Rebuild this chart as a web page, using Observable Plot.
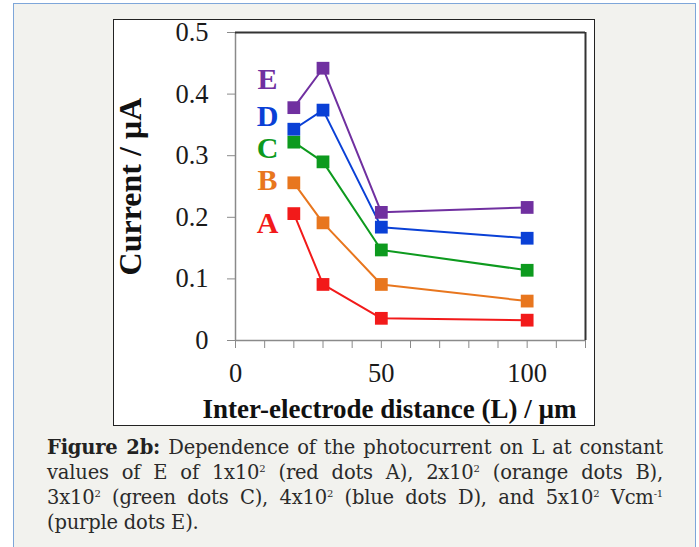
<!DOCTYPE html>
<html>
<head>
<meta charset="utf-8">
<script src="https://cdn.jsdelivr.net/npm/d3@7"></script>
<script src="https://cdn.jsdelivr.net/npm/@observablehq/plot@0.6"></script>
<style>
  html, body { margin: 0; padding: 0; background: #ffffff; width: 699px; height: 547px; overflow: hidden; }
  #panel { position: absolute; left: 13px; top: 3px; width: 681px; height: 560px; background: #f2f2ee;
           border-top: 1px solid #7ea6d9; border-left: 1px solid #7ea6d9; border-right: 1px solid #7ea6d9; }
  #chartbox { position: absolute; left: 113px; top: 19px; width: 480px; height: 405px; background: #ffffff; border: 1px solid #222; }
  #chartbox svg { display: block; }
  #caption { position: absolute; left: 47px; top: 435px; width: 616px; font-family: "DejaVu Serif", serif; font-size: 19.5px;
             line-height: 25px; color: #2a2a2a; letter-spacing: -0.2px; }
  #caption .l { text-align: justify; text-align-last: justify; white-space: nowrap; }
  #caption .last { text-align: left; }
  #caption sup { font-size: 10px; line-height: 0; vertical-align: 7px; }
  #caption b { color: #222; }
</style>
</head>
<body>
<div id="panel"></div>
<div id="chartbox"></div>
<div id="caption">
  <div class="l"><b>Figure 2b:</b> Dependence of the photocurrent on L at constant</div>
  <div class="l">values of E of 1x10<sup>2</sup> (red dots A), 2x10<sup>2</sup> (orange dots B),</div>
  <div class="l">3x10<sup>2</sup> (green dots C), 4x10<sup>2</sup> (blue dots D), and 5x10<sup>2</sup> Vcm<sup>-1</sup></div>
  <div class="last">(purple dots E).</div>
</div>
<script>
// Data
const distances = [20, 30, 50, 100];               // L / µm
const seriesA = [0.206, 0.091, 0.036, 0.033];      // red, 1x10^2 V/cm
const seriesB = [0.256, 0.191, 0.091, 0.064];      // orange, 2x10^2
const seriesC = [0.322, 0.290, 0.147, 0.114];      // green, 3x10^2
const seriesD = [0.343, 0.374, 0.184, 0.166];      // blue, 4x10^2
const seriesE = [0.378, 0.442, 0.208, 0.216];      // purple, 5x10^2
const seriesNames = ["A", "B", "C", "D", "E"];
const seriesColors = ["#f21a1a", "#e8761e", "#0d9a1e", "#0a40d6", "#7030a0"];
const labelX = [11, 11, 11, 11, 11];
const labelY = [0.190, 0.260, 0.312, 0.364, 0.424];
const xTicks = [0, 10, 20, 30, 40, 50, 60, 70, 80, 90, 100, 110, 120];
const xTickLabels = {0: "0", 50: "50", 100: "100"};
const yTicks = [0, 0.1, 0.2, 0.3, 0.4, 0.5];
const xTitle = "Inter-electrode distance (L) / µm";
const yTitle = "Current / µA";

const allSeries = [seriesA, seriesB, seriesC, seriesD, seriesE];
const points = allSeries.flatMap((vals, i) =>
  vals.map((v, j) => ({series: seriesNames[i], L: distances[j], I: v})));
const labels = seriesNames.map((s, i) => ({series: s, x: labelX[i], y: labelY[i]}));

const chart = Plot.plot({
  width: 480,
  height: 405,
  marginLeft: 121,
  marginRight: 9,
  marginTop: 12,
  marginBottom: 85,
  style: {fontFamily: "'Liberation Serif', 'Times New Roman', serif", fontSize: "26.5px", color: "#1a1a1a", background: "#ffffff", overflow: "visible"},
  x: {domain: [0, 120]},
  y: {domain: [0, 0.5]},
  color: {domain: seriesNames, range: seriesColors},
  marks: [
    Plot.axisX({ticks: xTicks, tickFormat: d => xTickLabels[d] ?? "", tickSize: 8, tickPadding: 15, stroke: "#8a8a8a", label: null}),
    Plot.axisY({ticks: yTicks, tickFormat: d => d === 0 ? "0" : d3.format(".1f")(d), tickSize: 8, tickPadding: 19, stroke: "#8a8a8a", label: null}),
    Plot.ruleX([0], {stroke: "#8a8a8a", strokeWidth: 1.5}),
    Plot.ruleY([0], {stroke: "#8a8a8a", strokeWidth: 1.5}),
    Plot.ruleY([0.5], {stroke: "#333", strokeWidth: 2}),
    Plot.ruleX([120], {stroke: "#333", strokeWidth: 2}),
    Plot.line(points, {x: "L", y: "I", z: "series", stroke: "series", strokeWidth: 2}),
    Plot.dot(points, {x: "L", y: "I", fill: "series", symbol: "square", r: 7.2, stroke: "none"}),
    Plot.text(labels, {x: "x", y: "y", text: "series", fill: "series", fontWeight: "bold", fontSize: 30}),
    Plot.text([xTitle], {frameAnchor: "bottom", textAnchor: "middle", dx: -21, dy: 77, fontWeight: "bold", fontSize: 27, fill: "#111"}),
    Plot.text([yTitle], {frameAnchor: "left", textAnchor: "middle", rotate: -90, dx: -105, fontWeight: "bold", fontSize: 32, fill: "#111"})
  ]
});
document.getElementById("chartbox").appendChild(chart);
</script>
</body>
</html>
